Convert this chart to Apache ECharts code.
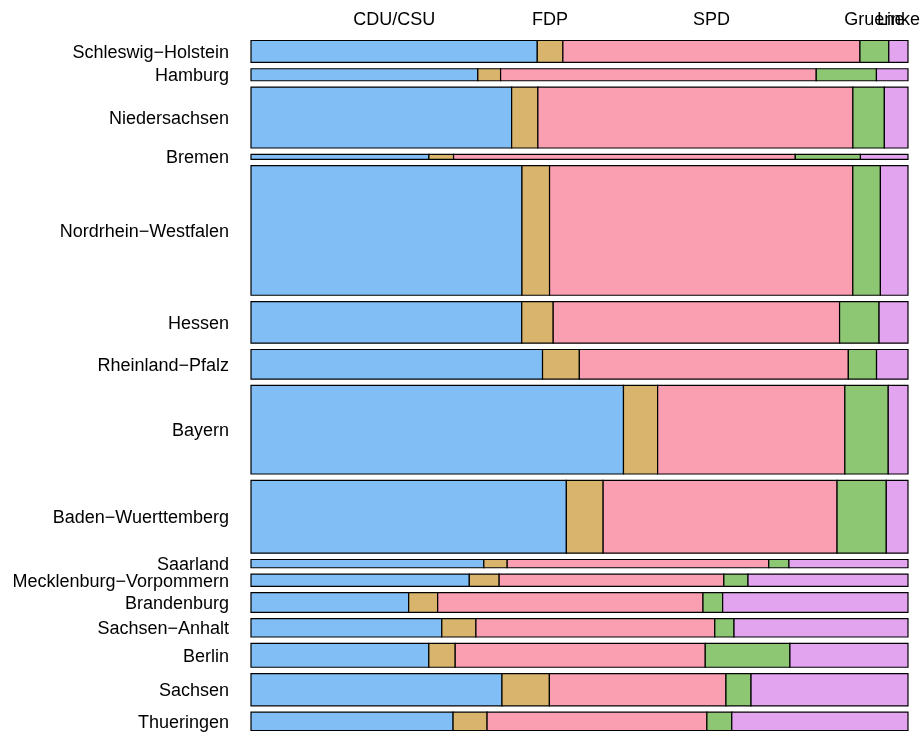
<!DOCTYPE html>
<html>
<head>
<meta charset="utf-8">
<script src="https://cdn.jsdelivr.net/npm/echarts@6/dist/echarts.min.js"></script>
<style>html,body{margin:0;padding:0;background:#fff}#c{width:924px;height:734px}</style>
</head>
<body>
<div id="c"></div>
<script>
// Votes (thousands)
const states = ['Schleswig−Holstein','Hamburg','Niedersachsen','Bremen','Nordrhein−Westfalen','Hessen','Rheinland−Pfalz','Bayern','Baden−Wuerttemberg','Saarland','Mecklenburg−Vorpommern','Brandenburg','Sachsen−Anhalt','Berlin','Sachsen','Thueringen'];
const parties = ['CDU/CSU','FDP','SPD','Gruene','Linke'];
const cdu    = [715, 309, 1807, 101, 3996, 1282,  982, 3752, 2614, 219, 307, 353, 397, 485, 921, 422];
const fdp    = [ 64,  31,  182,  14,  407,  149,  124,  344,  305,  22,  42,  65,  71,  72, 174,  71];
const spd    = [742, 430, 2184, 194, 4472, 1356,  906, 1886, 1939, 246, 316, 594, 497, 682, 648, 459];
const gruene = [ 72,  82,  218,  37,  407,  187,   95,  437,  408,  19,  34,  44,  40, 231,  92,  52];
const linke  = [ 48,  43,  164,  27,  407,  137,  106,  199,  180, 112, 225, 415, 362, 322, 576, 368];

const colors = ['#80BEF5','#D8B46C','#FA9EB1','#8EC774','#E2A3EF'];
const series = [cdu, fdp, spd, gruene, linke];

const totals = states.map((s, i) => series.reduce((a, arr) => a + arr[i], 0));
const grand = totals.reduce((a, b) => a + b, 0);
const gap = grand * 0.01057;
const data = [];
let y = 0;
states.forEach((s, i) => {
  let x = 0;
  series.forEach((arr, j) => {
    const w = arr[i] / totals[i];
    data.push([x, x + w, y, y + totals[i], i, j]);
    x += w;
  });
  y += totals[i] + gap;
});
const yMax = y - gap;

const font = '"Liberation Sans", Arial, Helvetica, sans-serif';
const chart = echarts.init(document.getElementById('c'));
chart.setOption({
  animation: false,
  backgroundColor: '#fff',
  grid: { left: 251, right: 16, top: 40.5, bottom: 3.5 },
  xAxis: { type: 'value', min: 0, max: 1, show: false },
  yAxis: { type: 'value', min: 0, max: yMax, inverse: true, show: false },
  series: [{
    type: 'custom',
    data: data,
    encode: { x: [0, 1], y: [2, 3] },
    renderItem: function (params, api) {
      const p0 = api.coord([api.value(0), api.value(2)]);
      const p1 = api.coord([api.value(1), api.value(3)]);
      const si = api.value(4), pj = api.value(5);
      const children = [{
        type: 'rect',
        shape: { x: p0[0], y: p0[1], width: p1[0] - p0[0], height: p1[1] - p0[1] },
        style: { fill: colors[pj], stroke: '#000', lineWidth: 1.2 }
      }];
      if (pj === 0) {
        children.push({
          type: 'text',
          style: { text: states[si], x: p0[0] - 22, y: (p0[1] + p1[1]) / 2 + 1.5, align: 'right', verticalAlign: 'middle', fill: '#000', font: '18px ' + font }
        });
      }
      if (si === 0) {
        children.push({
          type: 'text',
          style: { text: parties[pj], x: (p0[0] + p1[0]) / 2, y: p0[1] - 20.5, align: 'center', verticalAlign: 'middle', fill: '#000', font: '18px ' + font }
        });
      }
      return { type: 'group', children: children };
    }
  }]
});
</script>
</body>
</html>
